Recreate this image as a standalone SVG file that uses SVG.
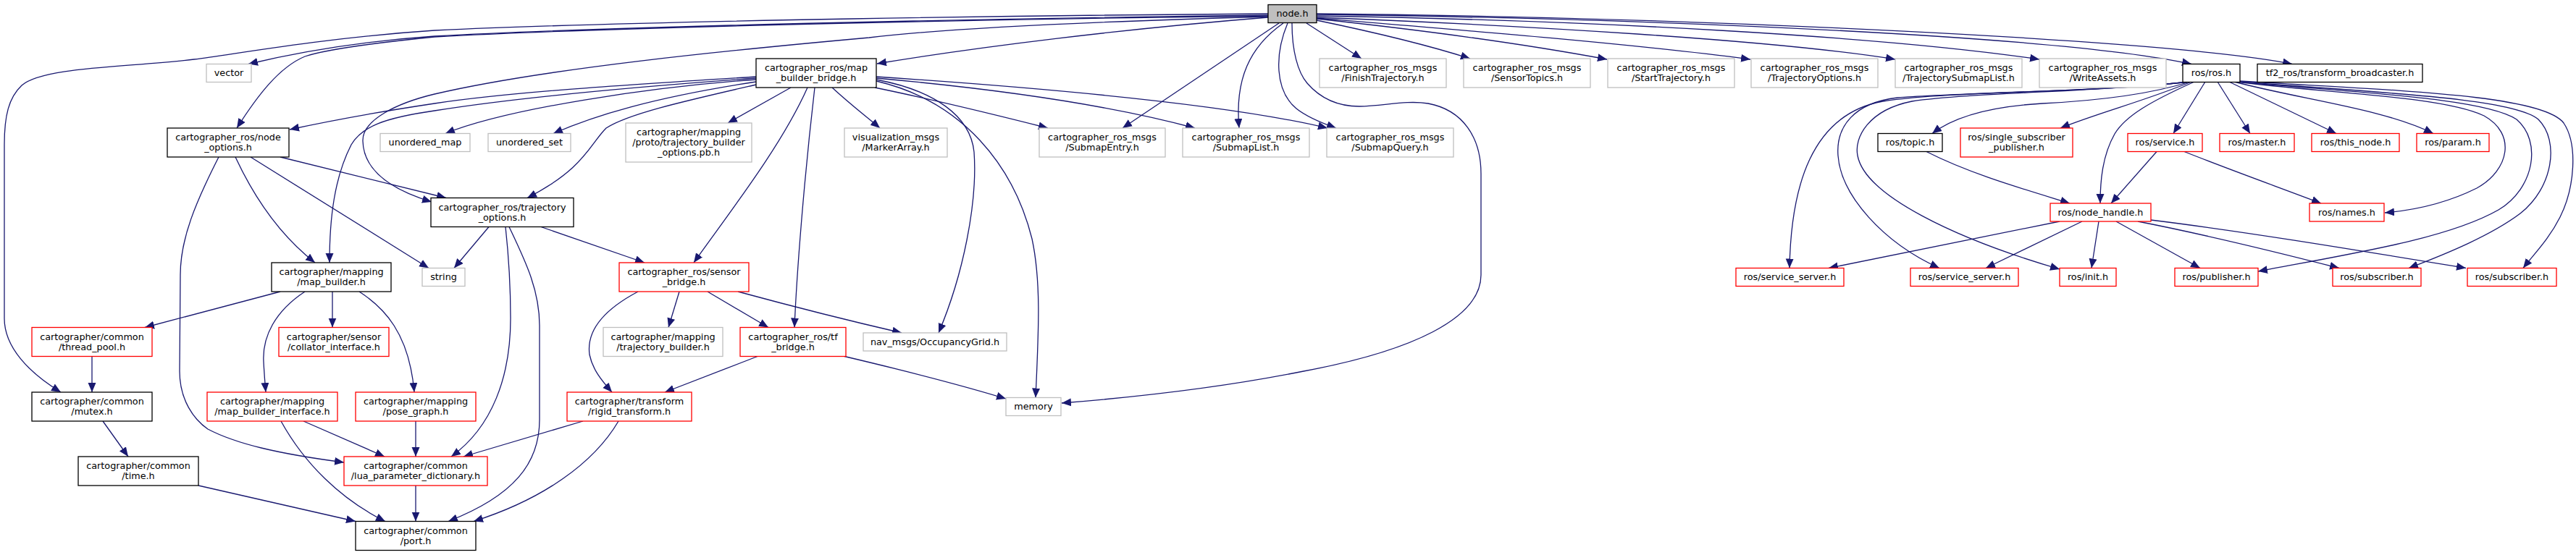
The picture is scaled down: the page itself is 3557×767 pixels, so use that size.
<svg xmlns="http://www.w3.org/2000/svg" width="3557" height="767" viewBox="0 0 3557 767">
<defs>
<marker id="a" markerUnits="userSpaceOnUse" markerWidth="14" markerHeight="12" refX="13" refY="5.5" orient="auto"><path d="M0,0 L13,5.5 L0,11 z" fill="#191970"/></marker>
<style>
rect{fill:#fff;stroke-width:1.3}
.k rect{stroke:#000}
.r rect{stroke:#ff0000}
.g rect{stroke:#bfbfbf}
.root rect{fill:#bfbfbf;stroke:#000}
text{font-family:"DejaVu Sans","Liberation Sans",sans-serif;font-size:12.8px;text-anchor:middle;fill:#000}
#edges path{fill:none;stroke:#191970;stroke-width:1.3;marker-end:url(#a)}
</style>
</defs>
<rect x="0" y="0" width="3557" height="767" style="fill:#fff;stroke:none"/>
<g id="edges">
<path d="M1751,19 C1450,21 900,28 600,42 C450,52 330,74 268,82 C180,93 60,92 30,118 C12,135 6,160 6,200 L6,440 C6,480 40,515 84,542"/>
<path d="M1751,21 C1400,25 850,36 600,50 C500,57 420,70 343,88.5"/>
<path d="M1751,22 C1400,26 850,37 600,51 C500,61 445,70 421,78 C385,93 355,133 327,177"/>
<path d="M1751,23 C1500,30 1300,40 1200,52 C1000,70 750,95 600,130 C550,142 500,165 501,195 C502,235 540,262 596,279"/>
<path d="M1751,24 C1550,40 1350,65 1211,88"/>
<path d="M1804,32 L1880,81"/>
<path d="M1818,28 C1900,45 1980,65 2030,81"/>
<path d="M1818,26 C1950,40 2100,60 2219,82"/>
<path d="M1818,25 C2000,40 2250,60 2417,82"/>
<path d="M1818,24 C2100,35 2450,55 2617,82"/>
<path d="M1818,22 C2200,28 2600,50 2816,82"/>
<path d="M1818,20 C2300,26 2850,50 3026,88.5"/>
<path d="M1818,19 C2350,24 3000,55 3165,88.5"/>
<path d="M1766,32 L1550,177"/>
<path d="M1772,32 C1725,65 1705,110 1711,177"/>
<path d="M1778,32 C1760,75 1760,125 1790,150 C1805,162 1825,170 1845,177"/>
<path d="M1784,32 C1784,70 1792,100 1805,115 C1825,138 1850,147 1877,147 C1910,147 1940,138 1972,143 C2020,152 2045,190 2045,240 L2045,380 C2045,440 1950,485 1800,513 C1700,533 1580,548 1466,557"/>
<path d="M1044,106 C850,118 700,128 600,143 C520,155 460,166 400,179"/>
<path d="M1044,108 C850,122 700,137 600,153 C530,163 500,175 485,200 C462,245 455,300 455,363"/>
<path d="M1044,110 C900,120 700,150 615,184.5"/>
<path d="M1044,113 C900,135 820,160 764,184.5"/>
<path d="M1044,117 C944,140 868,157 837,177 C814,200 807,233 728,273.5"/>
<path d="M1092,121 L1005,170"/>
<path d="M1115,121 C1080,200 1010,290 958,363"/>
<path d="M1125,121 C1110,250 1100,380 1097,452.5"/>
<path d="M1149,121 C1175,145 1195,160 1215,177"/>
<path d="M1208,121 C1300,140 1380,160 1447,177"/>
<path d="M1210,108 C1400,125 1550,150 1650,177"/>
<path d="M1210,106 C1450,122 1700,145 1833,177"/>
<path d="M1210,110 C1290,125 1340,160 1345,210 C1350,280 1330,380 1296,460"/>
<path d="M1210,112 C1330,140 1400,230 1425,330 C1438,390 1434,460 1430,549.5"/>
<path d="M325,217 C345,260 380,320 435,363"/>
<path d="M346,217 L592,370.5"/>
<path d="M387,217 L616,273.5"/>
<path d="M302,217 C270,280 249,330 249,380 L248,513 C248,553 268,580 287,593 C325,613 383,627 475,639"/>
<path d="M675,313.5 L627,370.5"/>
<path d="M747,313.5 L890,363"/>
<path d="M698,313.5 C702,350 705,400 705,440 C705,520 680,590 623,631"/>
<path d="M703,313.5 C725,360 745,400 745,450 L745,580 C745,640 710,685 619,720.5"/>
<path d="M387,403 L200,452.5"/>
<path d="M459,403 L459,452.5"/>
<path d="M421,403 C380,430 362,465 364,500 C365,520 366,530 367,542"/>
<path d="M496,403 C530,425 565,460 572,542"/>
<path d="M127,492.5 L127,542"/>
<path d="M142,582 L177,631"/>
<path d="M274,671 L491,720.5"/>
<path d="M419,582 L531,631"/>
<path d="M388,582 C420,640 470,690 532,720.5"/>
<path d="M574,582 L574,631"/>
<path d="M574,671 L574,720.5"/>
<path d="M881,403 C830,430 810,460 814,490 C818,510 830,525 845,542"/>
<path d="M938,403 L923,452.5"/>
<path d="M977,403 L1061,452.5"/>
<path d="M1019,403 C1100,425 1180,445 1245,460"/>
<path d="M1046,492.5 L918,542"/>
<path d="M1166,492.5 C1240,510 1320,530 1389,551"/>
<path d="M805,582 L640,631"/>
<path d="M854,582 C820,640 750,690 654,720.5"/>
<path d="M3022,113 C2900,128 2700,125 2600,140 C2500,158 2473,260 2471,370.5"/>
<path d="M3022,113 C2900,127 2700,128 2620,135 C2560,142 2535,175 2538,215 C2542,270 2600,335 2678,370.5"/>
<path d="M3022,113 C2900,127 2720,128 2640,140 C2580,152 2560,190 2565,215 C2575,270 2700,330 2844,372"/>
<path d="M3024,113 C2960,133 2880,140 2820,143 C2750,147 2700,160 2668,184.5"/>
<path d="M3026,113 C2960,140 2900,155 2845,177"/>
<path d="M3030,113 C2970,140 2935,160 2920,185 C2903,215 2900,250 2900,281"/>
<path d="M3045,113 L3001,184.5"/>
<path d="M3062,113 L3107,184.5"/>
<path d="M3078,113 L3226,184.5"/>
<path d="M3085,113 C3180,138 3290,150 3360,184.5"/>
<path d="M3088,113 C3200,128 3370,132 3430,160 C3475,185 3465,235 3420,260 C3380,280 3340,290 3293,294"/>
<path d="M3090,113 C3250,128 3430,135 3475,165 C3510,195 3500,260 3450,290 C3380,330 3250,350 3118,375"/>
<path d="M3092,113 C3280,128 3470,135 3505,165 C3535,195 3525,260 3480,295 C3440,325 3380,350 3326,370.5"/>
<path d="M3093,112 C3300,125 3510,130 3540,170 C3560,200 3555,260 3535,300 C3520,330 3500,350 3484,370.5"/>
<path d="M2660,209.5 C2720,240 2790,260 2858,281"/>
<path d="M2978,209.5 L2915,281"/>
<path d="M3016,209.5 C3080,235 3150,260 3205,281"/>
<path d="M2844,306 L2525,370.5"/>
<path d="M2875,306 L2742,370.5"/>
<path d="M2898,306 L2888,370.5"/>
<path d="M2922,306 L3038,370.5"/>
<path d="M2952,306 C3050,325 3150,350 3230,370.5"/>
<path d="M2970,304 C3100,320 3250,345 3405,370.5"/>
</g>
<g id="n_node" class="root"><rect x="1751" y="6.5" width="67" height="25"/><text x="1784.5" y="23.3">node.h</text></g>
<g id="n_vector" class="g"><rect x="285" y="88.5" width="62" height="25"/><text x="316" y="105.3">vector</text></g>
<g id="n_mbb" class="k"><rect x="1044" y="81" width="166" height="40"/><text x="1127" y="98">cartographer_ros/map</text><text x="1127" y="112">_builder_bridge.h</text></g>
<g id="n_finish" class="g"><rect x="1822" y="81" width="175" height="40"/><text x="1909.5" y="98">cartographer_ros_msgs</text><text x="1909.5" y="112">/FinishTrajectory.h</text></g>
<g id="n_sensortopics" class="g"><rect x="2021" y="81" width="175" height="40"/><text x="2108.5" y="98">cartographer_ros_msgs</text><text x="2108.5" y="112">/SensorTopics.h</text></g>
<g id="n_start" class="g"><rect x="2220" y="81" width="175" height="40"/><text x="2307.5" y="98">cartographer_ros_msgs</text><text x="2307.5" y="112">/StartTrajectory.h</text></g>
<g id="n_trajoptsmsg" class="g"><rect x="2418" y="81" width="175" height="40"/><text x="2505.5" y="98">cartographer_ros_msgs</text><text x="2505.5" y="112">/TrajectoryOptions.h</text></g>
<g id="n_trajsub" class="g"><rect x="2617" y="81" width="175" height="40"/><text x="2704.5" y="98">cartographer_ros_msgs</text><text x="2704.5" y="112">/TrajectorySubmapList.h</text></g>
<g id="n_write" class="g"><rect x="2816" y="81" width="175" height="40"/><text x="2903.5" y="98">cartographer_ros_msgs</text><text x="2903.5" y="112">/WriteAssets.h</text></g>
<g id="n_ros" class="k"><rect x="3014" y="88.5" width="79" height="25"/><text x="3053.5" y="105.3">ros/ros.h</text></g>
<g id="n_tf2" class="k"><rect x="3117" y="88.5" width="228" height="25"/><text x="3231" y="105.3">tf2_ros/transform_broadcaster.h</text></g>
<g id="n_nodeopt" class="k"><rect x="231" y="177" width="168" height="40"/><text x="315" y="194">cartographer_ros/node</text><text x="315" y="208">_options.h</text></g>
<g id="n_umap" class="g"><rect x="525" y="184.5" width="124" height="25"/><text x="587" y="201.3">unordered_map</text></g>
<g id="n_uset" class="g"><rect x="674" y="184.5" width="114" height="25"/><text x="731" y="201.3">unordered_set</text></g>
<g id="n_pb" class="g"><rect x="864" y="170" width="174" height="54"/><text x="951" y="186.5">cartographer/mapping</text><text x="951" y="201">/proto/trajectory_builder</text><text x="951" y="215">_options.pb.h</text></g>
<g id="n_vis" class="g"><rect x="1166" y="177" width="142" height="40"/><text x="1237" y="194">visualization_msgs</text><text x="1237" y="208">/MarkerArray.h</text></g>
<g id="n_subentry" class="g"><rect x="1435" y="177" width="174" height="40"/><text x="1522" y="194">cartographer_ros_msgs</text><text x="1522" y="208">/SubmapEntry.h</text></g>
<g id="n_sublist" class="g"><rect x="1633" y="177" width="175" height="40"/><text x="1720.5" y="194">cartographer_ros_msgs</text><text x="1720.5" y="208">/SubmapList.h</text></g>
<g id="n_subquery" class="g"><rect x="1832" y="177" width="175" height="40"/><text x="1919.5" y="194">cartographer_ros_msgs</text><text x="1919.5" y="208">/SubmapQuery.h</text></g>
<g id="n_topic" class="k"><rect x="2593" y="184.5" width="89" height="25"/><text x="2637.5" y="201.3">ros/topic.h</text></g>
<g id="n_ssp" class="r"><rect x="2707" y="177" width="155" height="40"/><text x="2784.5" y="194">ros/single_subscriber</text><text x="2784.5" y="208">_publisher.h</text></g>
<g id="n_service" class="r"><rect x="2938" y="184.5" width="103" height="25"/><text x="2989.5" y="201.3">ros/service.h</text></g>
<g id="n_master" class="r"><rect x="3065" y="184.5" width="103" height="25"/><text x="3116.5" y="201.3">ros/master.h</text></g>
<g id="n_thisnode" class="r"><rect x="3192" y="184.5" width="121" height="25"/><text x="3252.5" y="201.3">ros/this_node.h</text></g>
<g id="n_param" class="r"><rect x="3337" y="184.5" width="100" height="25"/><text x="3387" y="201.3">ros/param.h</text></g>
<g id="n_trajopt" class="k"><rect x="595" y="273.5" width="197" height="40"/><text x="693.5" y="290.5">cartographer_ros/trajectory</text><text x="693.5" y="304.5">_options.h</text></g>
<g id="n_nh" class="r"><rect x="2831" y="281" width="139" height="25"/><text x="2900.5" y="297.8">ros/node_handle.h</text></g>
<g id="n_names" class="r"><rect x="3189" y="281" width="103" height="25"/><text x="3240.5" y="297.8">ros/names.h</text></g>
<g id="n_mb" class="k"><rect x="375" y="363" width="165" height="40"/><text x="457.5" y="380">cartographer/mapping</text><text x="457.5" y="394">/map_builder.h</text></g>
<g id="n_string" class="g"><rect x="583" y="370.5" width="59" height="25"/><text x="612.5" y="387.3">string</text></g>
<g id="n_sb" class="r"><rect x="855" y="363" width="179" height="40"/><text x="944.5" y="380">cartographer_ros/sensor</text><text x="944.5" y="394">_bridge.h</text></g>
<g id="n_ss1" class="r"><rect x="2397" y="370.5" width="149" height="25"/><text x="2471.5" y="387.3">ros/service_server.h</text></g>
<g id="n_ss2" class="r"><rect x="2638" y="370.5" width="149" height="25"/><text x="2712.5" y="387.3">ros/service_server.h</text></g>
<g id="n_init" class="r"><rect x="2844" y="370.5" width="78" height="25"/><text x="2883" y="387.3">ros/init.h</text></g>
<g id="n_pub" class="r"><rect x="3003" y="370.5" width="115" height="25"/><text x="3060.5" y="387.3">ros/publisher.h</text></g>
<g id="n_sub1" class="r"><rect x="3221" y="370.5" width="122" height="25"/><text x="3282" y="387.3">ros/subscriber.h</text></g>
<g id="n_sub2" class="r"><rect x="3407" y="370.5" width="123" height="25"/><text x="3468.5" y="387.3">ros/subscriber.h</text></g>
<g id="n_tp" class="r"><rect x="44" y="452.5" width="166" height="40"/><text x="127" y="469.5">cartographer/common</text><text x="127" y="483.5">/thread_pool.h</text></g>
<g id="n_coll" class="r"><rect x="385" y="452.5" width="152" height="40"/><text x="461" y="469.5">cartographer/sensor</text><text x="461" y="483.5">/collator_interface.h</text></g>
<g id="n_tb" class="g"><rect x="833" y="452.5" width="165" height="40"/><text x="915.5" y="469.5">cartographer/mapping</text><text x="915.5" y="483.5">/trajectory_builder.h</text></g>
<g id="n_tfb" class="r"><rect x="1022" y="452.5" width="146" height="40"/><text x="1095" y="469.5">cartographer_ros/tf</text><text x="1095" y="483.5">_bridge.h</text></g>
<g id="n_nav" class="g"><rect x="1192" y="460" width="198" height="25"/><text x="1291" y="476.8">nav_msgs/OccupancyGrid.h</text></g>
<g id="n_mutex" class="k"><rect x="44" y="542" width="166" height="40"/><text x="127" y="559">cartographer/common</text><text x="127" y="573">/mutex.h</text></g>
<g id="n_mbi" class="r"><rect x="286" y="542" width="180" height="40"/><text x="376" y="559">cartographer/mapping</text><text x="376" y="573">/map_builder_interface.h</text></g>
<g id="n_pg" class="r"><rect x="491" y="542" width="166" height="40"/><text x="574" y="559">cartographer/mapping</text><text x="574" y="573">/pose_graph.h</text></g>
<g id="n_rt" class="r"><rect x="783" y="542" width="172" height="40"/><text x="869" y="559">cartographer/transform</text><text x="869" y="573">/rigid_transform.h</text></g>
<g id="n_memory" class="g"><rect x="1389" y="549.5" width="76" height="25"/><text x="1427" y="566.3">memory</text></g>
<g id="n_time" class="k"><rect x="108" y="631" width="166" height="40"/><text x="191" y="648">cartographer/common</text><text x="191" y="662">/time.h</text></g>
<g id="n_lua" class="r"><rect x="475" y="631" width="198" height="40"/><text x="574" y="648">cartographer/common</text><text x="574" y="662">/lua_parameter_dictionary.h</text></g>
<g id="n_port" class="k"><rect x="491" y="720.5" width="166" height="40"/><text x="574" y="737.5">cartographer/common</text><text x="574" y="751.5">/port.h</text></g>
</svg>
